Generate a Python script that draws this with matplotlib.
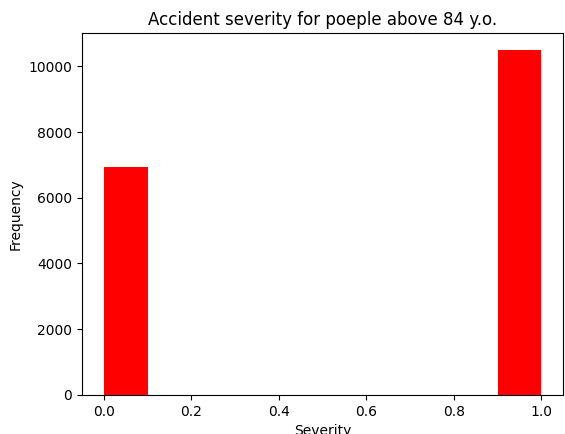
import matplotlib
matplotlib.use("Agg")
import matplotlib.pyplot as plt

# Severity values (0 = not severe, 1 = severe) and how many accidents each
severity = [0, 1]
counts = [6950, 10490]

fig = plt.figure(figsize=(5.65, 4.34), dpi=100)
ax = fig.add_axes([0.145, 0.09, 0.852, 0.834])
ax.hist(severity, bins=10, weights=counts, color="red")
ax.set_title("Accident severity for poeple above 84 y.o.")
ax.set_xlabel("Severity")
ax.set_ylabel("Frequency")
fig.savefig("out.png", dpi=100)
